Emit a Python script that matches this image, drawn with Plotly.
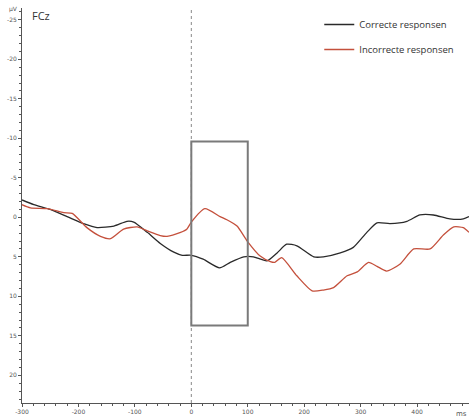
import plotly.graph_objects as go

# ---- data ----
t_correct = [-300, -279, -250, -220, -191, -167, -137, -114, -102, -78, -55, -31, -16, 0, 21, 50, 69, 93,
             110, 134, 152, 169, 187, 217, 234, 264, 287, 311, 329, 352, 382, 405, 429, 458, 482, 492]
v_correct = [-2.2, -1.6, -1.0, -0.1, 0.8, 1.3, 1.1, 0.5, 0.6, 1.9, 3.3, 4.4, 4.8, 4.8, 5.3, 6.4, 5.7, 5.0,
             5.0, 5.5, 4.5, 3.4, 3.6, 5.0, 5.0, 4.5, 3.8, 1.9, 0.7, 0.8, 0.5, -0.3, -0.3, 0.2, 0.2, -0.1]

t_incorrect = [-300, -285, -255, -226, -211, -185, -161, -143, -120, -96, -78, -55, -43, -19, -8, 0, 24, 51,
               63, 81, 99, 122, 140, 148, 160, 187, 214, 234, 252, 276, 294, 314, 329, 346, 370, 394, 423,
               447, 465, 482, 492]
v_incorrect = [-1.6, -1.2, -1.1, -0.6, -0.5, 1.3, 2.4, 2.7, 1.5, 1.2, 1.7, 2.3, 2.4, 1.9, 1.5, 0.6, -1.1, -0.1,
               0.3, 1.1, 3.0, 4.9, 5.6, 5.7, 5.1, 7.4, 9.3, 9.2, 8.9, 7.4, 6.9, 5.7, 6.2, 6.8, 5.9, 4.0, 4.0,
               2.2, 1.2, 1.3, 1.9]

series_names = ["Correcte responsen", "Incorrecte responsen"]
x_ticks = [-300, -200, -100, 0, 100, 200, 300, 400]
y_ticks = [-25, -20, -15, -10, -5, 0, 5, 10, 15, 20]
box_window = (0, 100)        # ms
box_span = (-9.6, 13.7)      # µV
x_range = [-300, 492]
y_range = [23.5, -26.5]      # negative up

fig = go.Figure()
fig.add_trace(go.Scatter(x=t_correct, y=v_correct, mode="lines", name=series_names[0], legendgroup="a",
                         line=dict(color="#2a2a2a", width=1.3, shape="spline", smoothing=0.6)))
fig.add_trace(go.Scatter(x=t_incorrect, y=v_incorrect, mode="lines", name=series_names[1], legendgroup="b",
                         line=dict(color="#c4503c", width=1.3, shape="spline", smoothing=0.6)))

# dotted stimulus line
fig.add_shape(type="line", xref="x", yref="paper", x0=0, x1=0, y0=0, y1=1,
              line=dict(color="#888888", width=1, dash="dot"), layer="below")
# analysis window box
fig.add_shape(type="rect", xref="x", yref="y", x0=box_window[0], x1=box_window[1],
              y0=box_span[0], y1=box_span[1], line=dict(color="#7a7a7a", width=2))

tickfont = dict(family="DejaVu Sans", size=6, color="#555555")
fig.update_xaxes(range=x_range, tickvals=x_ticks, ticktext=[str(v) for v in x_ticks],
                 ticks="outside", ticklen=3, tickcolor="#555555",
                 showline=True, linecolor="#555555", linewidth=1, showgrid=False, zeroline=False,
                 tickfont=tickfont,
                 minor=dict(dtick=20, ticks="outside", ticklen=2, tickcolor="#555555"))
fig.update_yaxes(range=y_range, tickvals=y_ticks, ticktext=[str(v) for v in y_ticks],
                 ticks="outside", ticklen=3, tickcolor="#555555",
                 showline=True, linecolor="#555555", linewidth=1, showgrid=False, zeroline=False,
                 tickfont=tickfont,
                 minor=dict(dtick=1, ticks="outside", ticklen=2, tickcolor="#555555"))

fig.add_annotation(text="FCz", xref="paper", yref="paper", x=0.018, y=1.005, xanchor="left", yanchor="top",
                   showarrow=False, font=dict(family="Open Sans", size=11, color="#333333"))
fig.add_annotation(text="µV", xref="paper", yref="paper", x=-0.005, y=1.012, xanchor="right", yanchor="top",
                   showarrow=False, font=dict(family="DejaVu Sans", size=6, color="#555555"))
fig.add_annotation(text="ms", xref="paper", yref="paper", x=1.0, y=-0.012, xanchor="right", yanchor="top",
                   showarrow=False, font=dict(family="DejaVu Sans", size=7, color="#555555"))

fig.update_layout(
    width=469, height=417,
    margin=dict(l=22, r=0, t=8, b=14),
    paper_bgcolor="white", plot_bgcolor="white",
    showlegend=True,
    legend=dict(x=0.665, y=0.995, xanchor="left", yanchor="top", bgcolor="rgba(0,0,0,0)",
                font=dict(family="Open Sans", size=9.5, color="#333333"), itemwidth=30,
                tracegroupgap=6),
)

fig.write_html("out.html")
